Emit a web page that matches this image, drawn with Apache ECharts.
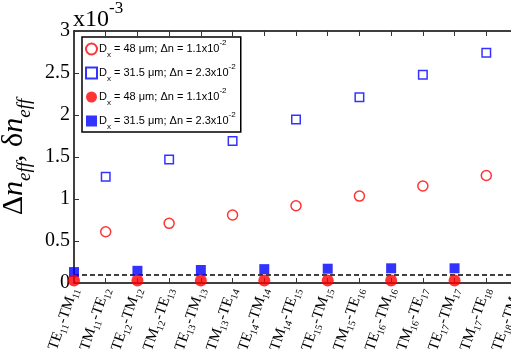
<!DOCTYPE html>
<html><head><meta charset="utf-8">
<script src="https://cdn.jsdelivr.net/npm/echarts@6/dist/echarts.min.js"></script>
<style>html,body{margin:0;padding:0;background:#fff}#c{width:511px;height:350px}</style>
</head><body><div id="c"></div>
<script>
// Category labels (x positions 0..14)
const categories = [
  'TE{s|11}-TM{s|11}','TM{s|11}-TE{s|12}','TE{s|12}-TM{s|12}','TM{s|12}-TE{s|13}',
  'TE{s|13}-TM{s|13}','TM{s|13}-TE{s|14}','TE{s|14}-TM{s|14}','TM{s|14}-TE{s|15}',
  'TE{s|15}-TM{s|15}','TM{s|15}-TE{s|16}','TE{s|16}-TM{s|16}','TM{s|16}-TE{s|17}',
  'TE{s|17}-TM{s|17}','TM{s|17}-TE{s|18}','TE{s|18}-TM{s|18}'
];
// Δn_eff (x10^-3) at odd category indices
const oddIdx = [1,3,5,7,9,11,13];
const openCircle48 = [0.61,0.71,0.81,0.92,1.035,1.155,1.28];
const openSquare315 = [1.265,1.47,1.69,1.945,2.21,2.48,2.74];
// δn_eff (x10^-3) at even category indices
const evenIdx = [0,2,4,6,8,10,12];
const filledCircle48 = [0.03,0.03,0.03,0.03,0.03,0.03,0.03];
const filledSquare315 = [0.13,0.145,0.155,0.165,0.17,0.175,0.175];
const dashedLevel = 0.1;
const yTicks = ['0','0.5','1','1.5','2','2.5','3'];
const legendNames = [
  'D{sub|x} = 48 μm; Δn = 1.1x10{sup|-2}',
  'D{sub|x} = 31.5 μm; Δn = 2.3x10{sup|-2}',
  'D{sub|x} = 48 μm; Δn = 1.1x10{sup|-2} ',
  'D{sub|x} = 31.5 μm; Δn = 2.3x10{sup|-2} '
];

const pairs = (xs, ys) => xs.map((x, i) => [x, ys[i]]);
const serif = 'Liberation Serif';
const sans = 'Liberation Sans';
const chart = echarts.init(document.getElementById('c'), null, {renderer: 'canvas'});
const axisCommon = {
  type: 'value', min: 0, max: 14, interval: 1,
  axisLine: {show: true, onZero: false, lineStyle: {color: '#000', width: 1.5}},
  axisTick: {show: true, inside: true, length: 5, lineStyle: {color: '#333', width: 1}},
  splitLine: {show: false}
};
chart.setOption({
  animation: false,
  grid: {left: 74, top: 31, bottom: 67, right: -7, containLabel: false, outerBoundsMode: 'none'},
  xAxis: [
    Object.assign({}, axisCommon, {
      position: 'bottom',
      axisLabel: {
        rotate: 71, margin: 5, fontFamily: serif, fontSize: 15, color: '#000', lineHeight: 20,
        showMaxLabel: true, showMinLabel: true, hideOverlap: false,
        formatter: v => categories[v] || '',
        rich: {s: {fontFamily: serif, fontSize: 10, color: '#000', lineHeight: 10, verticalAlign: 'bottom'}}
      }
    }),
    Object.assign({}, axisCommon, {position: 'top', axisLabel: {show: false}})
  ],
  yAxis: [{
    type: 'value', min: 0, max: 3, interval: 0.5,
    axisLine: {show: true, lineStyle: {color: '#000', width: 1.5}},
    axisTick: {show: true, inside: true, length: 5, lineStyle: {color: '#333'}},
    splitLine: {show: false},
    axisLabel: {fontFamily: serif, fontSize: 20, color: '#000', margin: 4,
      formatter: v => yTicks[Math.round(v * 2)]},
    name: 'Δ{it|n}{sub|eff}, δ{it|n}{sub|eff}',
    nameLocation: 'middle', nameRotate: 90, nameGap: 36,
    nameTextStyle: {fontFamily: serif, fontSize: 30, color: '#000', lineHeight: 40,
      rich: {
        it: {fontFamily: serif, fontSize: 30, fontStyle: 'italic', color: '#000', lineHeight: 40},
        sub: {fontFamily: serif, fontSize: 19, fontStyle: 'italic', color: '#000', lineHeight: 19, verticalAlign: 'bottom'}
      }}
  }],
  legend: {
    orient: 'vertical', left: 82, top: 37,
    backgroundColor: '#fff', borderColor: '#000', borderWidth: 1.5, borderRadius: 0,
    padding: [2, 2, 1, 3], itemGap: 4, itemWidth: 11, itemHeight: 11,
    textStyle: {fontFamily: sans, fontSize: 11, color: '#000', lineHeight: 20, padding: [0,0,0,-3],
      rich: {
        sub: {fontFamily: sans, fontSize: 8, color: '#000', lineHeight: 8, verticalAlign: 'bottom'},
        sup: {fontFamily: sans, fontSize: 8, color: '#000', lineHeight: 8, verticalAlign: 'top'}
      }},
    data: [
      {name: legendNames[0], icon: 'circle'},
      {name: legendNames[1], icon: 'rect'},
      {name: legendNames[2], icon: 'circle'},
      {name: legendNames[3], icon: 'rect'}
    ]
  },
  graphic: [
    {type: 'text', x: 73, y: 0, style: {
      text: 'x10{sup|-3}', font: '24px "Liberation Serif"', fill: '#000', lineHeight: 40,
      align: 'left', verticalAlign: 'top',
      rich: {sup: {fontFamily: serif, fontSize: 17, fill: '#000', lineHeight: 17, verticalAlign: 'top'}}
    }}
  ],
  series: [
    {name: legendNames[0], type: 'scatter', data: pairs(oddIdx, openCircle48),
      symbol: 'circle', symbolSize: 10,
      itemStyle: {color: '#fff', borderColor: '#ff0000', borderWidth: 1.5}},
    {name: legendNames[1], type: 'scatter', data: pairs(oddIdx, openSquare315),
      symbol: 'rect', symbolSize: 8.5,
      itemStyle: {color: '#fff', borderColor: '#0000ff', borderWidth: 1.5}},
    {name: legendNames[2], type: 'scatter', data: pairs(evenIdx, filledCircle48),
      symbol: 'circle', symbolSize: 12, z: 3,
      itemStyle: {color: '#ff0000'}},
    {name: legendNames[3], type: 'scatter', data: pairs(evenIdx, filledSquare315),
      symbol: 'rect', symbolSize: 10, z: 2,
      itemStyle: {color: '#0000ff'},
      markLine: {silent: true, symbol: 'none', label: {show: false}, z: 1,
        lineStyle: {color: '#000', type: [5, 3], width: 1.5},
        data: [{yAxis: dashedLevel}]}}
  ]
});
</script></body></html>
